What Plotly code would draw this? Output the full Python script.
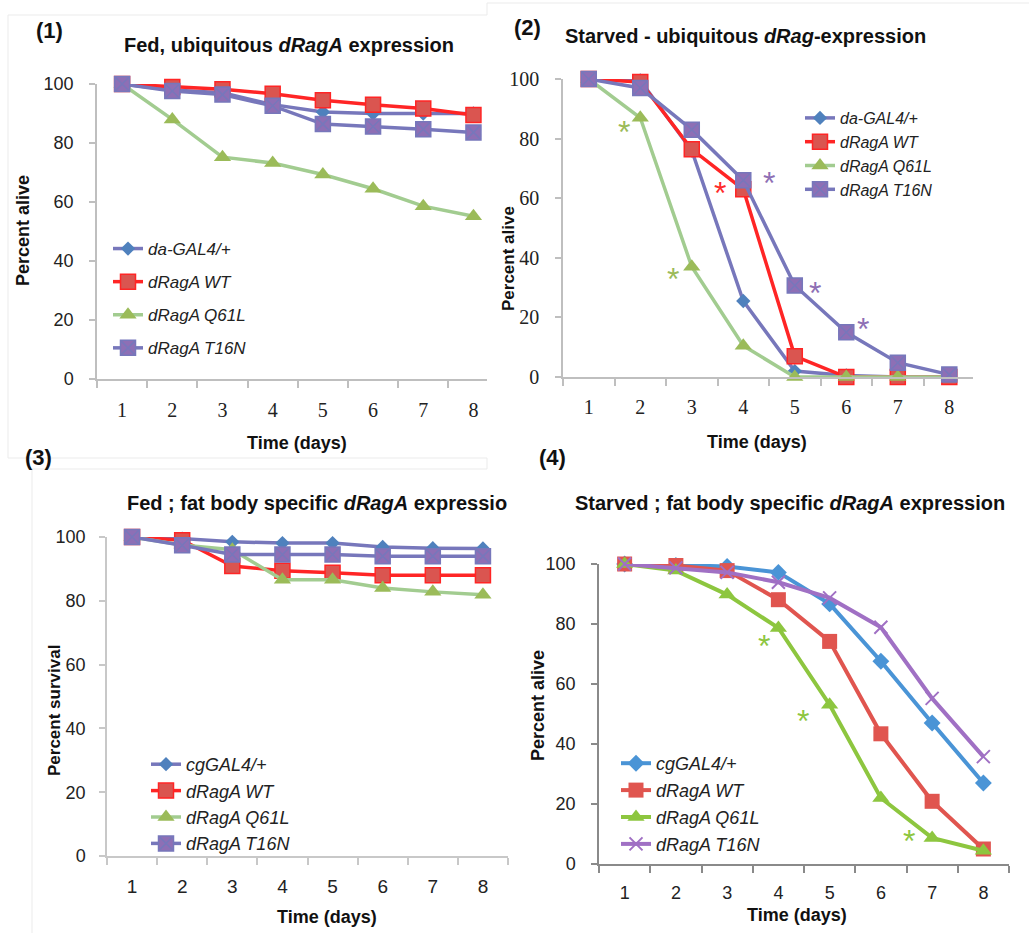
import plotly.graph_objects as go

W, H = 1029, 933

days = [1, 2, 3, 4, 5, 6, 7, 8]
day_labels = ["1", "2", "3", "4", "5", "6", "7", "8"]

# Panel 1: fed, ubiquitous
p1_da = [100, 98, 97, 93, 90.5, 90, 90, 90]
p1_wt = [100, 99, 98.2, 96.7, 94.5, 93, 91.7, 89.5]
p1_q61l = [100, 88, 75.2, 73.2, 69.3, 64.5, 58.6, 55.2]
p1_t16n = [100, 97.6, 96.4, 92.6, 86.4, 85.6, 84.7, 83.6]

# Panel 2: starved, ubiquitous
p2_da = [100, 99.5, 76, 25.5, 2, 0.5, 0, 0]
p2_wt = [100, 99, 76.4, 63, 7, 0, 0, 0]
p2_q61l = [100, 87, 37, 10.5, 0, 0, 0, 0]
p2_t16n = [100, 97, 83, 66, 30.7, 15, 4.8, 0.8]

# Panel 3: fed, fat body
p3_cg = [100, 99.5, 98.5, 98.1, 98.1, 96.9, 96.5, 96.4]
p3_wt = [100, 99, 90.9, 89.4, 88.8, 88, 88, 88]
p3_q61l = [100, 97.5, 96, 86.6, 86.6, 84, 82.8, 81.9]
p3_t16n = [100, 97.4, 94.5, 94.5, 94.5, 94, 94, 94]

# Panel 4: starved, fat body
p4_cg = [100, 99.5, 99.2, 97.2, 86.7, 67.6, 47, 27]
p4_wt = [100, 99.5, 97.8, 88.1, 74.2, 43.4, 20.9, 5]
p4_q61l = [100, 97.8, 89.8, 78.7, 53.1, 22, 8.7, 4.4]
p4_t16n = [100, 98.7, 97.2, 93.9, 88.7, 78.9, 55.2, 35.8]

names_ubi = ["da-GAL4/+", "dRagA WT", "dRagA Q61L", "dRagA T16N"]
names_fat = ["cgGAL4/+", "dRagA WT", "dRagA Q61L", "dRagA T16N"]

# significance asterisks (x in days, y in percent)
p2_star_x = [1.69, 2.63, 3.55, 4.49, 5.40, 6.32]
p2_star_y = [84.2, 35.0, 63.9, 67.2, 30.3, 18.0]
p2_star_c = ["#9BBB59", "#9BBB59", "#FF2A2A", "#8E6FB5", "#8E6FB5", "#8E6FB5"]
p4_star_x = [3.71, 4.49, 6.55]
p4_star_y = [74.1, 49.1, 8.9]
p4_star_c = ["#8DC63F", "#8DC63F", "#8DC63F"]


def px(x):
    return x / W


def py(y):
    return 1 - y / H


SANS = "Liberation Sans, Arial, sans-serif"
SERIF = "Liberation Serif, Times New Roman, serif"

fig = go.Figure()

style_old = [
    dict(line="#7777BB", sym="diamond", mc="#4F81BD", ms=11, ml="#4F81BD", mlw=0),
    dict(line="#FF2525", sym="square", mc="#DA5550", ms=15, ml="#FF2525", mlw=1.5),
    dict(line="#A2CC90", sym="triangle-up", mc="#9BBB59", ms=15, ml="#9BBB59", mlw=0),
    dict(line="#7777BB", sym="square-x", mc="#8E6FB5", ms=15, ml="#7777BB", mlw=1.5),
]
style_new = [
    dict(line="#4A94D6", sym="diamond", mc="#4A94D6", ms=13, ml="#4A94D6", mlw=0),
    dict(line="#E0554F", sym="square", mc="#E0554F", ms=15, ml="#E0554F", mlw=0),
    dict(line="#8DC63F", sym="triangle-up", mc="#8DC63F", ms=15, ml="#8DC63F", mlw=0),
    dict(line="#A070C4", sym="x-thin-open", mc="#A070C4", ms=13, ml="#A070C4", mlw=2),
]

panels = [
    dict(ax="", leg="legend", data=[p1_da, p1_wt, p1_q61l, p1_t16n], names=names_ubi, st=style_old, lw=3.5),
    dict(ax="2", leg="legend2", data=[p2_da, p2_wt, p2_q61l, p2_t16n], names=names_ubi, st=style_old, lw=3.5),
    dict(ax="3", leg="legend3", data=[p3_cg, p3_wt, p3_q61l, p3_t16n], names=names_fat, st=style_old, lw=3.5),
    dict(ax="4", leg="legend4", data=[p4_cg, p4_wt, p4_q61l, p4_t16n], names=names_fat, st=style_new, lw=4),
]

for pi, p in enumerate(panels):
    for i in range(4):
        s = p["st"][i]
        fig.add_trace(go.Scatter(
            x=days, y=p["data"][i], name=p["names"][i],
            mode="lines+markers",
            line=dict(color=s["line"], width=p["lw"]),
            marker=dict(symbol=s["sym"], color=s["mc"], size=s["ms"],
                        line=dict(color=s["ml"], width=s["mlw"])),
            xaxis="x" + p["ax"], yaxis="y" + p["ax"],
            legend=p["leg"], legendgroup=f"p{pi}_{i}",
            cliponaxis=False, hoverinfo="x+y+name",
        ))

# axes geometry in pixels: (x_left, x_right, x_range_max, y_zero, y_hundred)
geom = [
    (97, 487, 8.27, 379, 84),
    (563, 973, 8.46, 377, 79),
    (107, 508, 8.5, 856, 537),
    (599, 1009, 8.5, 864, 564),
]
axis_colors = ["#BFBFBF", "#BFBFBF", "#C8C8C8", "#8A8A8A"]
xfonts = [dict(family=SERIF, size=20, color="#222"), dict(family=SERIF, size=20, color="#222"),
          dict(family=SANS, size=19, color="#222"), dict(family=SANS, size=18, color="#222")]
yfonts = [dict(family=SANS, size=18, color="#222"), dict(family=SERIF, size=20, color="#222"),
          dict(family=SANS, size=18, color="#222"), dict(family=SANS, size=18, color="#222")]
xstand = [12, 11, 12, 12]
ystand = [12, 12, 10, 12]

layout = {}
for k, (x0, x1, xmax, y0, y100) in enumerate(geom):
    sfx = "" if k == 0 else str(k + 1)
    col = axis_colors[k]
    layout["xaxis" + sfx] = dict(
        domain=[px(x0), px(x1)], range=[0.5, xmax], anchor="y" + sfx,
        tickmode="array", tickvals=days, ticktext=day_labels, ticks="",
        showline=True, linecolor=col, linewidth=1.5, showgrid=False, zeroline=False,
        tickfont=xfonts[k], ticklabelstandoff=xstand[k],
        minor=dict(tickmode="array", tickvals=[0.5 + j for j in range(9)],
                   ticks="outside", ticklen=7, tickcolor=col, tickwidth=1.5, showgrid=False),
    )
    layout["yaxis" + sfx] = dict(
        domain=[py(y0), py(y100)], range=[0, 100], anchor="x" + sfx,
        tickmode="linear", tick0=0, dtick=20, ticks="outside", ticklen=6,
        tickcolor=col, tickwidth=1.5,
        showline=True, linecolor=col, linewidth=1.5, showgrid=False, zeroline=False,
        tickfont=yfonts[k], ticklabelstandoff=ystand[k],
    )

legend_common = dict(xanchor="left", yanchor="top", bgcolor="rgba(0,0,0,0)",
                     traceorder="grouped", itemclick=False, itemdoubleclick=False)
layout["legend"] = dict(x=px(108), y=py(231), tracegroupgap=8,
                        font=dict(family=SANS, size=17, color="#222", style="italic"), **legend_common)
layout["legend2"] = dict(x=px(800), y=py(101), tracegroupgap=0,
                         font=dict(family=SANS, size=16, color="#222", style="italic"), **legend_common)
layout["legend3"] = dict(x=px(146), y=py(746), tracegroupgap=0,
                         font=dict(family=SANS, size=18, color="#222", style="italic"), **legend_common)
layout["legend4"] = dict(x=px(616), y=py(745), tracegroupgap=0.5,
                         font=dict(family=SANS, size=18, color="#222", style="italic"), **legend_common)

ann = []


def text(x, y, s, size, angle=0, xanchor="center", family=SANS, color="#111"):
    ann.append(dict(x=px(x), y=py(y), xref="paper", yref="paper", text=s, showarrow=False,
                    font=dict(family=family, size=size, color=color), textangle=angle,
                    xanchor=xanchor, yanchor="middle"))


# panel labels
text(49, 30, "<b>(1)</b>", 22)
text(527, 28, "<b>(2)</b>", 22)
text(38, 457, "<b>(3)</b>", 22)
text(552, 457, "<b>(4)</b>", 22)
# titles
text(289, 45, "<b>Fed, ubiquitous <i>dRagA</i> expression</b>", 20)
text(745, 36, "<b>Starved - ubiquitous <i>dRag</i>-expression</b>", 20)
text(125, 503, "<b>Fed ; fat body specific <i>dRagA</i> expressio</b>", 20, xanchor="left")
text(790, 503, "<b>Starved ; fat body specific <i>dRagA</i> expression</b>", 20)
# axis titles
text(23, 231, "<b>Percent alive</b>", 18, angle=-90)
text(509, 259, "<b>Percent alive</b>", 17, angle=-90)
text(54, 711, "<b>Percent survival</b>", 17, angle=-90)
text(538, 706, "<b>Percent alive</b>", 18, angle=-90)
text(297, 443, "<b>Time (days)</b>", 18)
text(757, 442, "<b>Time (days)</b>", 18)
text(327, 917, "<b>Time (days)</b>", 18)
text(797, 915, "<b>Time (days)</b>", 18)

# asterisks in data coordinates
for xs, ys, cs, sfx, ysh in [(p2_star_x, p2_star_y, p2_star_c, "2", -6), (p4_star_x, p4_star_y, p4_star_c, "4", -4)]:
    for xv, yv, cv in zip(xs, ys, cs):
        ann.append(dict(x=xv, y=yv, xref="x" + sfx, yref="y" + sfx, text="*", showarrow=False,
                        font=dict(family=SANS, size=32, color=cv), yshift=ysh,
                        xanchor="center", yanchor="middle"))

# faint panel frames
frame = "#EBEBEB"
shapes = []
for (xa, ya, xb, yb) in [(8, 15, 487, 15), (8, 15, 8, 458), (8, 458, 487, 458), (487, 3, 487, 15),
                         (487, 3, 1029, 3), (32, 469, 32, 933), (32, 469, 487, 469),
                         (487, 458, 487, 469)]:
    shapes.append(dict(type="line", xref="paper", yref="paper", x0=px(xa), y0=py(ya), x1=px(xb), y1=py(yb),
                       line=dict(color=frame, width=1), layer="below"))

fig.update_layout(
    width=W, height=H, margin=dict(l=0, r=0, t=0, b=0, pad=0, autoexpand=False),
    paper_bgcolor="white", plot_bgcolor="white",
    annotations=ann, shapes=shapes, **layout,
)

fig.write_html("out.html", config={"displayModeBar": False},
               post_script="document.body.style.margin='0px';")
